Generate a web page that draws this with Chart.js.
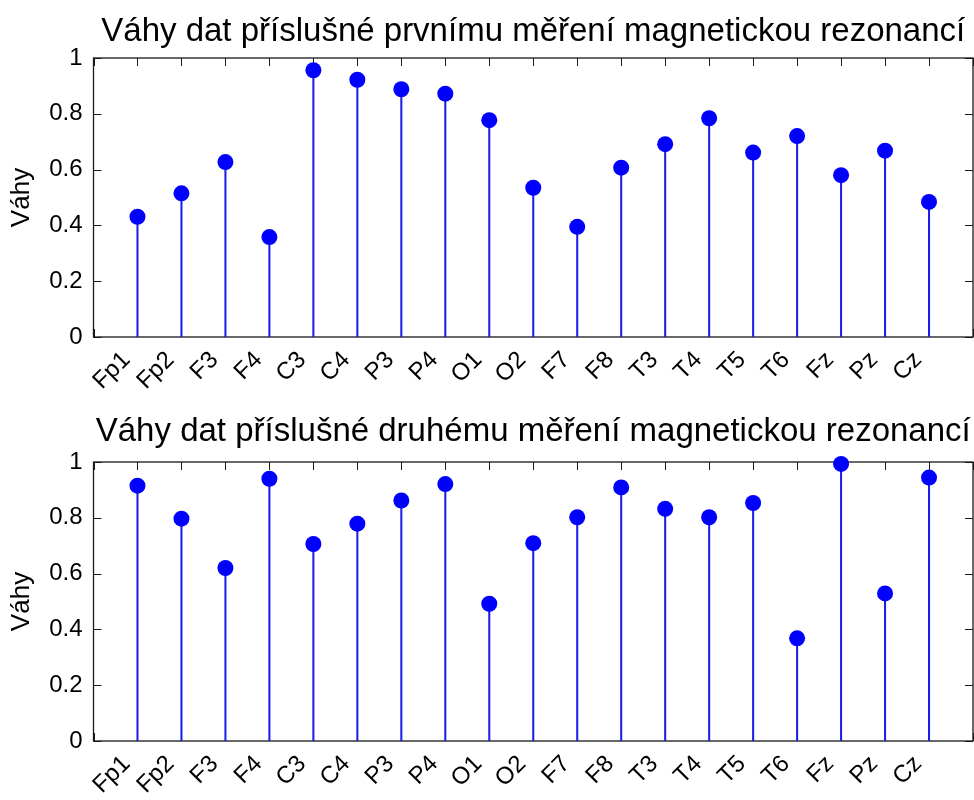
<!DOCTYPE html>
<html>
<head>
<meta charset="utf-8">
<script src="https://cdn.jsdelivr.net/npm/chart.js@4/dist/chart.umd.min.js"></script>
<style>
    body { margin: 0; background: #fff; }
    .box { width: 974px; height: 400px; }
</style>
</head>
<body>
<div class="box"><canvas id="chart1" width="974" height="400"></canvas></div>
<div class="box"><canvas id="chart2" width="974" height="400"></canvas></div>
<script>
    // channel names (x axis)
    const channels = ['Fp1', 'Fp2', 'F3', 'F4', 'C3', 'C4', 'P3', 'P4', 'O1', 'O2',
                      'F7', 'F8', 'T3', 'T4', 'T5', 'T6', 'Fz', 'Pz', 'Cz'];
    // weights from first MR measurement
    const weights1 = [0.431, 0.515, 0.627, 0.358, 0.956, 0.922, 0.888, 0.872, 0.777, 0.535,
                      0.395, 0.607, 0.691, 0.784, 0.661, 0.720, 0.580, 0.668, 0.484];
    // weights from second MR measurement
    const weights2 = [0.915, 0.797, 0.620, 0.940, 0.706, 0.779, 0.862, 0.921, 0.492, 0.709,
                      0.802, 0.909, 0.832, 0.802, 0.853, 0.368, 0.993, 0.529, 0.944];
    const yTickLabels = ['0', '0.2', '0.4', '0.6', '0.8', '1'];
    const titles = ['Váhy dat příslušné prvnímu měření magnetickou rezonancí',
                    'Váhy dat příslušné druhému měření magnetickou rezonancí'];
    const yTitle = 'Váhy';

    const FONT = "'Liberation Sans', Arial, Helvetica, sans-serif";
    const BLUE = '#0000ff';

    // matlab style box with inward ticks
    const matlabBox = {
        id: 'matlabBox',
        beforeDatasetsDraw(chart) {
            const ctx = chart.ctx;
            const a = chart.chartArea;
            const xs = chart.scales.x, ys = chart.scales.y;
            const tl = 8;
            ctx.save();
            ctx.strokeStyle = '#1a1a1a';
            ctx.lineWidth = 1;
            ctx.beginPath();
            xs.ticks.forEach(t => {
                const px = Math.round(xs.getPixelForValue(t.value)) + 0.5;
                ctx.moveTo(px, a.top); ctx.lineTo(px, a.top + tl);
                ctx.moveTo(px, a.bottom); ctx.lineTo(px, a.bottom - tl);
            });
            ys.ticks.forEach(t => {
                const py = Math.round(ys.getPixelForValue(t.value)) + 0.5;
                ctx.moveTo(a.left, py); ctx.lineTo(a.left + tl, py);
                ctx.moveTo(a.right, py); ctx.lineTo(a.right - tl, py);
            });
            ctx.stroke();
            ctx.lineWidth = 1.3;
            ctx.strokeRect(a.left, a.top, a.right - a.left, a.bottom - a.top);
            ctx.restore();
        }
    };

    function setup_chart(name, values, title, titlePadBottom, xHeight) {
        const pts = values.map((v, i) => ({ x: i + 1, y: v }));
        return new Chart(document.getElementById(name), {
            type: 'bar',
            data: {
                datasets: [
                    { type: 'line', data: pts, showLine: false, pointRadius: 8, pointHoverRadius: 8,
                      pointBackgroundColor: BLUE, pointBorderWidth: 0, clip: false, order: 0 },
                    { type: 'bar', data: pts, backgroundColor: 'rgb(30,30,235)', barThickness: 1.4,
                      borderWidth: 0, order: 1 }
                ]
            },
            options: {
                responsive: false,
                animation: false,
                layout: { autoPadding: false, padding: { left: 0, right: 1, top: 0, bottom: 0 } },
                plugins: {
                    legend: { display: false },
                    tooltip: { enabled: false },
                    title: {
                        display: true, text: title, color: '#000', fullSize: false,
                        font: { family: FONT, size: 33, weight: 'normal' },
                        padding: { top: 12, bottom: titlePadBottom }
                    }
                },
                scales: {
                    x: {
                        type: 'linear', min: 0, max: 20, offset: false,
                        grid: { display: false, drawTicks: false, offset: false },
                        border: { display: false },
                        afterFit: s => { s.height = xHeight; s.paddingLeft = 0; s.paddingRight = 0; },
                        ticks: {
                            stepSize: 1, autoSkip: false, maxRotation: 45, minRotation: 45,
                            color: '#000', padding: 9, labelOffset: -11,
                            font: { family: FONT, size: 24 },
                            callback: v => channels[v - 1] || ''
                        }
                    },
                    y: {
                        min: 0, max: 1,
                        grid: { display: false, drawTicks: false },
                        border: { display: false },
                        afterFit: s => { s.width = 93.5; },
                        title: {
                            display: true, text: yTitle, color: '#000',
                            font: { family: FONT, size: 26 },
                            padding: { top: 6, bottom: 0 }
                        },
                        ticks: {
                            stepSize: 0.2, color: '#000', padding: 11,
                            font: { family: FONT, size: 24 },
                            callback: v => yTickLabels[Math.round(v * 5)]
                        }
                    }
                }
            },
            plugins: [matlabBox]
        });
    }

    setup_chart('chart1', weights1, titles[0], 6.4, 63);
    setup_chart('chart2', weights2, titles[1], 10.4, 59);
</script>
</body>
</html>
